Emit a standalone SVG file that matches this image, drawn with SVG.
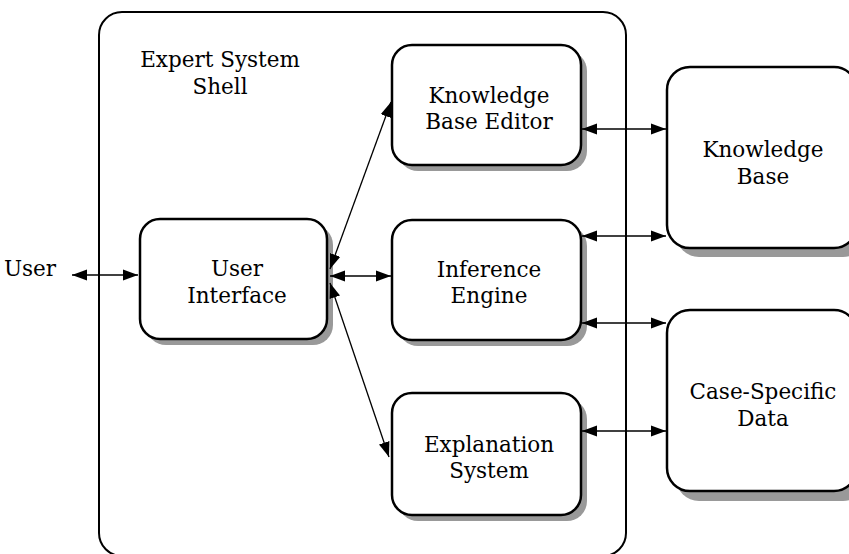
<svg xmlns="http://www.w3.org/2000/svg" width="849" height="554" viewBox="0 0 849 554">
<defs>
<style>
.box{fill:#fff;stroke:#000;stroke-width:2.5}
.shadow{fill:#999;stroke:none}
.shell{fill:#fff;stroke:#000;stroke-width:2}
.lbl{font-family:"DejaVu Serif","Liberation Serif",serif;font-size:21.5px;fill:#000;text-anchor:middle}
.conn{stroke:#000;stroke-width:1.3;fill:none;marker-start:url(#ah);marker-end:url(#ah)}
</style>
<marker id="ah" markerUnits="userSpaceOnUse" markerWidth="16" markerHeight="12" refX="15" refY="6" orient="auto-start-reverse">
<path d="M0,0.5 L15,6 L0,11.5 z" fill="#000"/>
</marker>
</defs>
<rect width="849" height="554" fill="#fff"/>
<g id="shell">
<rect class="shell" x="99" y="12" width="527" height="544" rx="23"/>
<text class="lbl" x="220" y="67">Expert System</text>
<text class="lbl" x="220" y="94">Shell</text>
</g>
<g id="kbe">
<rect class="shadow" x="398" y="51" width="189" height="120" rx="20"/>
<rect class="box" x="392" y="45" width="189" height="120" rx="20"/>
<text class="lbl" x="489" y="103">Knowledge</text>
<text class="lbl" x="489" y="129">Base Editor</text>
</g>
<g id="ui">
<rect class="shadow" x="146" y="225" width="187" height="120" rx="20"/>
<rect class="box" x="140" y="219" width="187" height="120" rx="20"/>
<text class="lbl" x="237" y="276">User</text>
<text class="lbl" x="237" y="303">Interface</text>
</g>
<g id="ie">
<rect class="shadow" x="398" y="226" width="189" height="120" rx="20"/>
<rect class="box" x="392" y="220" width="189" height="120" rx="20"/>
<text class="lbl" x="489" y="277">Inference</text>
<text class="lbl" x="489" y="303">Engine</text>
</g>
<g id="es">
<rect class="shadow" x="398" y="399" width="189" height="122" rx="20"/>
<rect class="box" x="392" y="393" width="189" height="122" rx="20"/>
<text class="lbl" x="489" y="452">Explanation</text>
<text class="lbl" x="489" y="478">System</text>
</g>
<g id="kb">
<rect class="shadow" x="676" y="76" width="190" height="181" rx="23"/>
<rect class="box" x="667" y="67" width="190" height="181" rx="23"/>
<text class="lbl" x="763" y="157">Knowledge</text>
<text class="lbl" x="763" y="184">Base</text>
</g>
<g id="csd">
<rect class="shadow" x="676" y="320" width="190" height="181" rx="23"/>
<rect class="box" x="667" y="310" width="190" height="181" rx="23"/>
<text class="lbl" x="763" y="399">Case-Specific</text>
<text class="lbl" x="763" y="426">Data</text>
</g>
<g id="user">
<text class="lbl" x="30" y="276">User</text>
</g>
<g id="connectors">
<line class="conn" x1="72" y1="275" x2="138" y2="275"/>
<line class="conn" x1="330" y1="276" x2="391" y2="276"/>
<line class="conn" x1="330" y1="269" x2="391" y2="102"/>
<line class="conn" x1="330" y1="283" x2="389" y2="457"/>
<line class="conn" x1="582" y1="129" x2="666" y2="129"/>
<line class="conn" x1="582" y1="236" x2="666" y2="236"/>
<line class="conn" x1="582" y1="323" x2="666" y2="323"/>
<line class="conn" x1="582" y1="431" x2="666" y2="431"/>
</g>
</svg>
